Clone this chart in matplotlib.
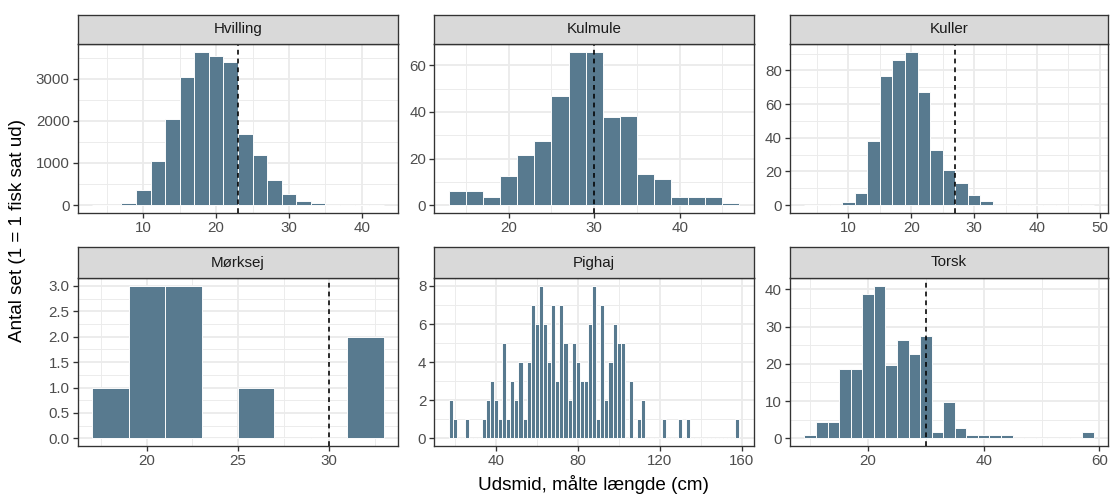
import matplotlib.pyplot as plt
from matplotlib.ticker import MultipleLocator, FormatStrFormatter
import numpy as np

plt.rcParams['font.family'] = ['Liberation Sans', 'DejaVu Sans']

binwidth = 2

# counts per 2 cm bin, listed from the first bin centre
hvilling_first = 4
hvilling_n = [0, 0, 50, 360, 1040, 2040, 3050, 3640, 3550, 3400,
              1700, 1200, 605, 270, 105, 45, 0, 0, 0, 0]

kulmule_first = 14
kulmule_n = [6.2, 6.2, 3.4, 12.4, 21.4, 27.6, 46.7, 65.8, 65.8, 37.7,
             38.3, 13.4, 11.3, 3.5, 3.5, 3.5, 0.9]

kuller_first = 4
kuller_n = [0, 0, 0, 2, 7, 38, 77, 86, 91, 67, 33, 21, 13, 6, 2.6,
            0, 0, 0, 0, 0, 0, 0, 0]

morksej_first = 18
morksej_n = [1, 3, 3, 0, 1, 0, 0, 2]

pighaj_first = 18
pighaj_n = [2, 1, 0, 0, 1, 0, 0, 0, 1, 2,
            3, 2, 1, 5, 1, 3, 2, 4, 1, 4,
            7, 6, 8, 6, 4, 7, 3, 7, 5, 2,
            5, 4, 3, 3, 6, 8, 1, 7, 2, 4,
            6, 5, 5, 0, 3, 0, 1, 2, 0, 0,
            0, 0, 1, 0, 0, 0, 1, 0, 1, 0,
            0, 0, 0, 0, 0, 0, 0, 0, 0, 0,
            1]

torsk_first = 10
torsk_n = [0.8, 4.5, 4.5, 18.6, 18.6, 38.8, 40.9, 19.6, 26.5, 22.7,
           27.5, 1.6, 9.7, 2.8, 0.8, 0.8, 0.8, 0.8, 0, 0,
           0, 0, 0, 0, 1.6]

species = ['Hvilling', 'Kulmule', 'Kuller', 'Mørksej', 'Pighaj', 'Torsk']
firsts = [hvilling_first, kulmule_first, kuller_first, morksej_first, pighaj_first, torsk_first]
counts = [hvilling_n, kulmule_n, kuller_n, morksej_n, pighaj_n, torsk_n]
mls = [23, 30, 27, 30, None, 30]
x_steps = [10, 10, 10, 5, 40, 20]
y_steps = [1000, 20, 20, 0.5, 2, 10]

W, H = 1110, 495
fig = plt.figure(figsize=(W / 96, H / 96), dpi=96)


def frac(l, t, r, b):
    return [l / W, 1 - b / H, (r - l) / W, (b - t) / H]


cols = [(77.7, 398.3), (434.3, 754), (790, 1108)]
rows = [(14.5, 44.3, 212.7), (246.7, 278.3, 446)]

fill = '#587a8f'
dark = '#333333'
small = 11.3
big = 14.2

for i, name in enumerate(species):
    l, r = cols[i % 3]
    st, pt, pb = rows[i // 3]
    ax = fig.add_axes(frac(l, pt, r, pb))
    n = np.array(counts[i], dtype=float)
    mids = firsts[i] + binwidth * np.arange(len(n))
    ax.bar(mids, n, width=binwidth, color=fill, edgecolor='white', linewidth=0.7, zorder=2)
    if mls[i] is not None:
        ax.axvline(mls[i], color='black', lw=1.2, ls=(0, (3, 2.5)), zorder=3)

    lo, hi = mids[0] - binwidth / 2, mids[-1] + binwidth / 2
    pad = 0.05 * (hi - lo)
    ax.set_xlim(lo - pad, hi + pad)
    ax.set_ylim(-0.05 * n.max(), 1.05 * n.max())

    ax.xaxis.set_major_locator(MultipleLocator(x_steps[i]))
    ax.xaxis.set_minor_locator(MultipleLocator(x_steps[i] / 2))
    ax.yaxis.set_major_locator(MultipleLocator(y_steps[i]))
    ax.yaxis.set_minor_locator(MultipleLocator(y_steps[i] / 2))
    if name == 'Mørksej':
        ax.yaxis.set_major_formatter(FormatStrFormatter('%.1f'))
    else:
        ax.yaxis.set_major_formatter(FormatStrFormatter('%d'))

    ax.set_axisbelow(True)
    ax.grid(which='major', color='#ebebeb', lw=1.4)
    ax.grid(which='minor', color='#ebebeb', lw=0.7)
    ax.tick_params(which='major', length=3.5, width=1.0, color=dark,
                   labelsize=small, labelcolor='#4d4d4d', pad=2.5)
    ax.tick_params(which='minor', length=0)
    for sp in ax.spines.values():
        sp.set_color(dark)
        sp.set_linewidth(1.0)

    sax = fig.add_axes(frac(l, st, r, pt))
    sax.set_facecolor('#d9d9d9')
    sax.set_xticks([])
    sax.set_yticks([])
    for sp in sax.spines.values():
        sp.set_color(dark)
        sp.set_linewidth(1.0)
    sax.text(0.5, 0.5, name, ha='center', va='center', fontsize=small,
             color='#1a1a1a', transform=sax.transAxes)

fig.text(593 / W, 1 - 484 / H, 'Udsmid, målte længde (cm)', ha='center', va='center', fontsize=big)
fig.text(18 / W, 1 - 230 / H, 'Antal set (1 = 1 fisk sat ud)', ha='center', va='center',
         rotation=90, fontsize=big)

fig.savefig('out.png', dpi=96)
